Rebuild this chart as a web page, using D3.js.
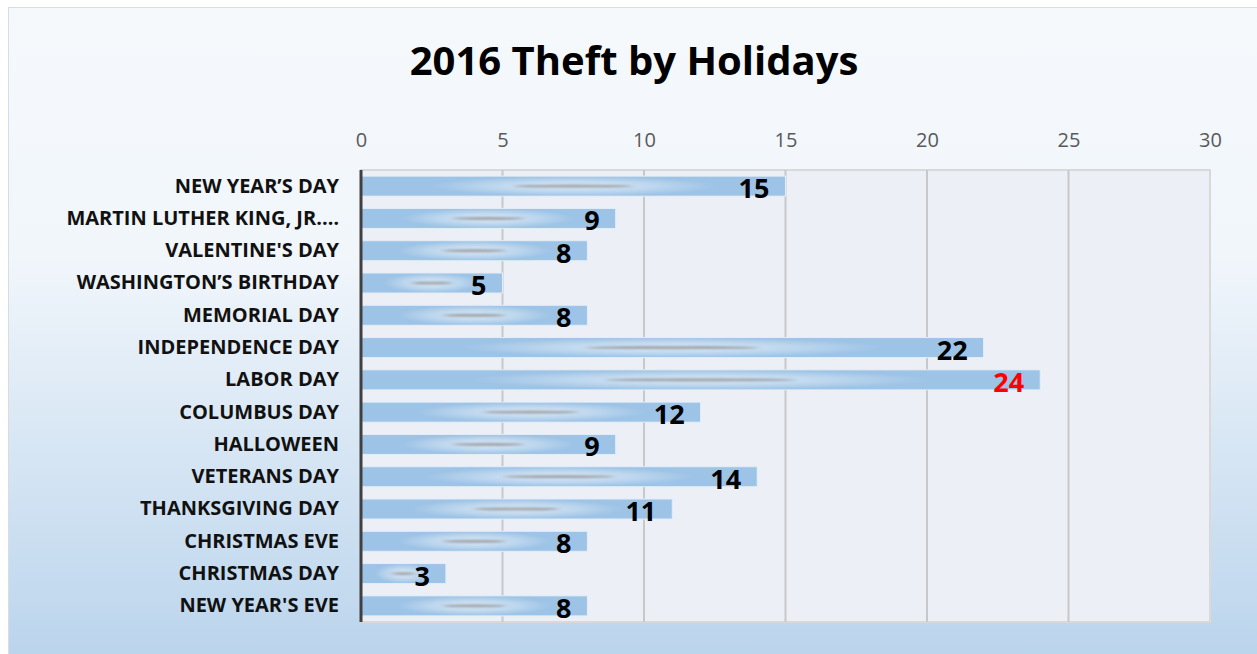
<!DOCTYPE html>
<html>
<head>
<meta charset="utf-8">
<script src="https://cdn.jsdelivr.net/npm/d3@7/dist/d3.min.js"></script>
<style>
  body { margin: 0; background: #fff; }
  svg { display: block; }
</style>
</head>
<body>
<div id="chart"></div>
<script>
// data
var holidays = ["NEW YEAR\u2019S DAY", "MARTIN LUTHER KING, JR.\u2026", "VALENTINE'S DAY", "WASHINGTON\u2019S BIRTHDAY",
  "MEMORIAL DAY", "INDEPENDENCE DAY", "LABOR DAY", "COLUMBUS DAY", "HALLOWEEN", "VETERANS DAY",
  "THANKSGIVING DAY", "CHRISTMAS EVE", "CHRISTMAS DAY", "NEW YEAR'S EVE"];
var thefts = [15, 9, 8, 5, 8, 22, 24, 12, 9, 14, 11, 8, 3, 8];
var xTicks = [0, 5, 10, 15, 20, 25, 30];

var W = 1257, H = 654;
var margin = {top: 170, right: 47, bottom: 32, left: 361};
var width = W - margin.left - margin.right,
    height = H - margin.top - margin.bottom;

var data = holidays.map(function(h, i) { return {name: h, value: thefts[i]}; });
var maxV = d3.max(thefts);

var svg = d3.select("#chart").append("svg")
    .attr("width", W)
    .attr("height", H);

var defs = svg.append("defs");
var bg = defs.append("linearGradient").attr("id", "bg")
    .attr("x1", 0).attr("y1", 0).attr("x2", 0).attr("y2", 1);
bg.append("stop").attr("offset", "0%").attr("stop-color", "#f5f9fc");
bg.append("stop").attr("offset", "38%").attr("stop-color", "#f1f6fb");
bg.append("stop").attr("offset", "100%").attr("stop-color", "#bad4ec");

var glow = defs.append("radialGradient").attr("id", "glow");
glow.append("stop").attr("offset", "0%").attr("stop-color", "#ffffff").attr("stop-opacity", 0.7);
glow.append("stop").attr("offset", "60%").attr("stop-color", "#ffffff").attr("stop-opacity", 0.3);
glow.append("stop").attr("offset", "100%").attr("stop-color", "#ffffff").attr("stop-opacity", 0);

defs.append("filter").attr("id", "blur")
    .attr("x", "-20%").attr("y", "-200%").attr("width", "140%").attr("height", "500%")
  .append("feGaussianBlur").attr("stdDeviation", "3 1");

// chart frame
svg.append("rect")
    .attr("x", 8.5).attr("y", 7.5)
    .attr("width", W).attr("height", H)
    .attr("fill", "url(#bg)")
    .attr("stroke", "#d9dde3");

svg.append("text")
    .attr("x", 634).attr("y", 75)
    .attr("text-anchor", "middle")
    .style("font-family", "'Open Sans', sans-serif")
    .style("font-weight", "bold")
    .style("font-size", "40px")
    .text("2016 Theft by Holidays");

var g = svg.append("g")
    .attr("transform", "translate(" + margin.left + "," + margin.top + ")");

var x = d3.scaleLinear().domain([0, 30]).range([0, width]);
var y = d3.scaleBand().domain(holidays).range([0, height]).paddingInner(0.38).paddingOuter(0.19);

g.append("rect")
    .attr("width", width).attr("height", height)
    .attr("fill", "#eceff6")
    .attr("stroke", "#d9d9d9")
    .attr("stroke-width", 2);

// gridlines
g.selectAll(".grid")
    .data(xTicks.slice(1, -1))
  .enter().append("line")
    .attr("x1", d => x(d)).attr("x2", d => x(d))
    .attr("y1", 0).attr("y2", height)
    .attr("stroke", "#c6c8cc")
    .attr("stroke-width", 2);

var xAxis = d3.axisTop(x).tickValues(xTicks).tickSize(0).tickPadding(23);
g.append("g")
    .attr("class", "x axis")
    .call(xAxis)
    .call(s => s.select(".domain").remove())
  .selectAll("text")
    .style("font-family", "'Open Sans', sans-serif")
    .style("font-size", "20px")
    .attr("fill", "#595959");

var yAxis = d3.axisLeft(y).tickSize(0).tickPadding(22);
g.append("g")
    .attr("class", "y axis")
    .call(yAxis)
    .call(s => s.select(".domain").remove())
  .selectAll("text")
    .style("font-family", "'Open Sans', sans-serif")
    .style("font-weight", "bold")
    .style("font-size", "20px")
    .attr("fill", "#111");

var bars = g.selectAll(".bar")
    .data(data)
  .enter().append("g")
    .attr("class", "bar");

bars.append("rect")
    .attr("x", 0)
    .attr("y", d => y(d.name))
    .attr("width", d => x(d.value))
    .attr("height", y.bandwidth())
    .attr("fill", "#9dc3e6")
    .attr("stroke", "#e3eef8")
    .attr("stroke-width", 1);

bars.append("ellipse")
    .attr("cx", d => x(d.value) * 0.5)
    .attr("cy", d => y(d.name) + y.bandwidth() / 2)
    .attr("rx", d => x(d.value) * 0.34)
    .attr("ry", y.bandwidth() / 2)
    .attr("fill", "url(#glow)");

bars.append("ellipse")
    .attr("cx", d => x(d.value) * 0.5)
    .attr("cy", d => y(d.name) + y.bandwidth() / 2)
    .attr("rx", d => x(d.value) * 0.14)
    .attr("ry", 1.6)
    .attr("fill", "#8a8f96")
    .attr("opacity", 0.75)
    .attr("filter", "url(#blur)");

// axis line drawn over the bars
g.append("line")
    .attr("x1", 0).attr("x2", 0)
    .attr("y1", 0).attr("y2", height)
    .attr("stroke", "#404040")
    .attr("stroke-width", 3);

bars.append("text")
    .attr("x", d => x(d.value) - 16)
    .attr("y", d => y(d.name) + y.bandwidth() / 2 + 12)
    .attr("text-anchor", "end")
    .style("font-family", "'Open Sans', sans-serif")
    .style("font-weight", "bold")
    .style("font-size", "27px")
    .attr("fill", d => d.value === maxV ? "#ff0000" : "#000")
    .text(d => d.value);
</script>
</body>
</html>
